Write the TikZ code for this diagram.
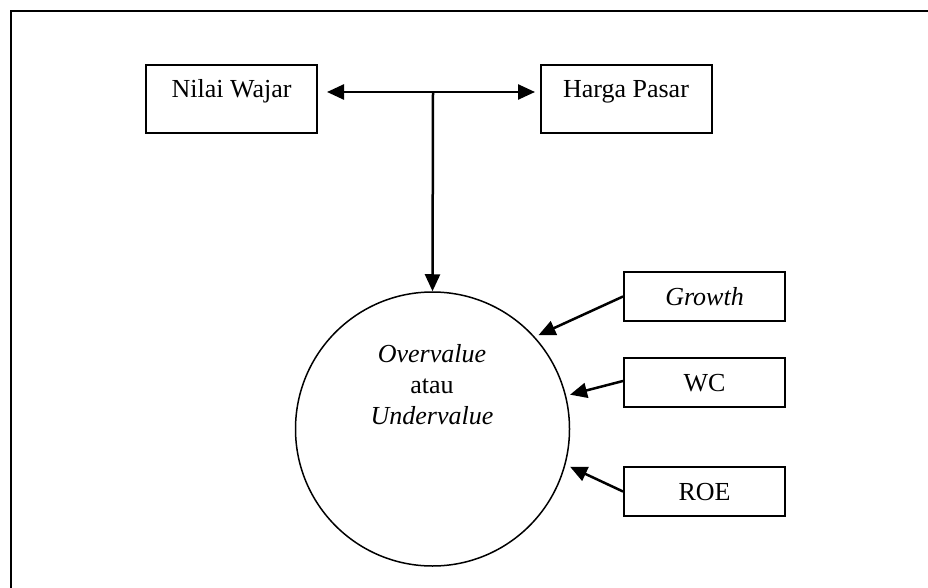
\documentclass[tikz,border=0pt]{standalone}
\usepackage{fontspec}
\setmainfont{Liberation Serif}
\usetikzlibrary{arrows.meta}
\begin{document}
\begin{tikzpicture}[x=1pt,y=-1pt,
  every node/.style={font=\fontsize{26}{30}\selectfont},
  topbox/.style={draw,line width=2pt,inner sep=0pt,minimum width=171pt,minimum height=68pt,text height=18pt,text depth=20pt},
  sidebox/.style={draw,line width=2pt,inner sep=0pt,minimum width=161pt,minimum height=49pt,text height=17pt,text depth=0pt},
  conn/.style={line width=2.5pt,-{Triangle[length=17pt,width=15pt]}},
  frameline/.style={line width=2.5pt}]
\useasboundingbox (0,0) rectangle (928,588);
\draw[frameline] (11,588) -- (11,11) -- (928,11);

\node[topbox] (nw) at (231.5,99) {Nilai Wajar};
\node[topbox] (hp) at (626,99) {Harga Pasar};
\node[sidebox] (gr) at (704.5,296.5) {\itshape Growth};
\node[sidebox] (wc) at (704.5,382.5) {WC};
\node[sidebox] (roe) at (704.5,491.5) {ROE};
\node[circle,draw,line width=1.5pt,minimum size=274pt,inner sep=0pt] (c) at (432.5,429) {};
\node[anchor=base] (t1) at (432,362) {\itshape Overvalue};
\node[anchor=base] (t2) at (432,393) {atau};
\node[anchor=base] (t3) at (432,424) {\itshape Undervalue};

\coordinate (jl) at (327,92);
\coordinate (jr) at (535,92);
\coordinate (j) at (433,92);
\draw[line width=2.5pt,{Triangle[length=17pt,width=15pt]}-{Triangle[length=17pt,width=15pt]}] (jl) -- (jr);
\draw[conn] (j) -- (c.north);
\draw[conn,shorten >=4pt] (gr.west) -- (c.42);
\draw[conn,shorten >=4pt] ([yshift=1.5pt]wc.west) -- (c.14);
\draw[conn,shorten >=5pt] (roe.west) -- (c.-15);
\end{tikzpicture}
\end{document}
